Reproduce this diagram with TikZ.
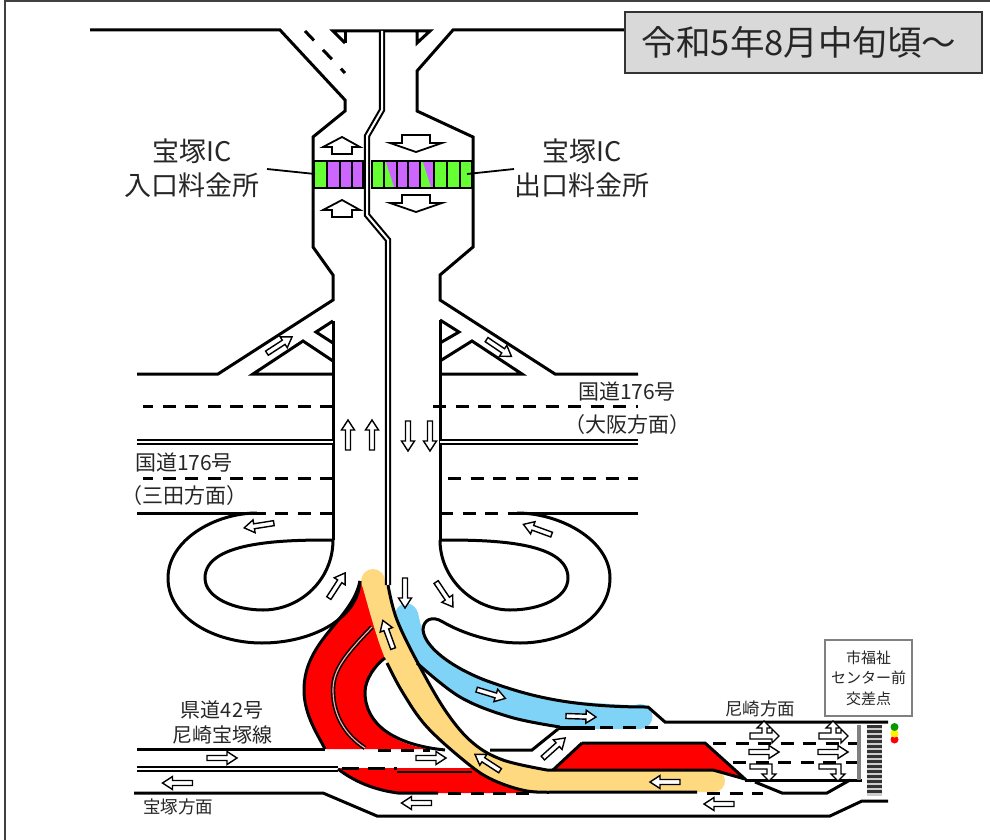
\documentclass[tikz,border=0pt]{standalone}
\usepackage{fontspec}
\newfontfamily\cjk{Noto Sans CJK JP}
\definecolor{tollgreen}{HTML}{66FF33}
\definecolor{tollpurple}{HTML}{CC66FF}
\definecolor{routeyellow}{HTML}{FFD97F}
\definecolor{routeblue}{HTML}{7FD3F7}
\tikzset{
  roadline/.style={draw=black,line width=3pt,line join=miter},
  laneline/.style={draw=black,line width=3pt,dash pattern=on 13pt off 9.5pt},
  tollcell/.style={draw=black,line width=2.6pt},
  slimarrow/.pic={
    \draw[line width=1.4pt,fill=white,line join=miter] (-15,-2.5) -- (5,-2.5) -- (5,-6.5) -- (15,0) -- (5,6.5) -- (5,2.5) -- (-15,2.5) -- cycle;
  },
  roadlabel/.style n args={2}{font=\cjk\fontsize{#1}{#2}\selectfont,align=center,text=black!85,inner sep=0pt},
}
\newcommand{\doubleroad}[1]{
  \draw[line width=6.2pt,black] #1;
  \draw[line width=2pt,white] #1;
}
\begin{document}
\begin{tikzpicture}[x=1pt,y=-1pt]
  \useasboundingbox (0,0) rectangle (990,840);

  \draw[line width=1.6pt,black!75] (5,840) -- (5,1) -- (990,1);

  % red lanes
  \begin{scope}[every path/.style={fill=red}]
    \path (360,581) .. controls (352,620) and (304,640) .. (304,690)
      .. controls (304,715) and (318,735) .. (325,749) -- (430,749)
      .. controls (395,745) and (365,725) .. (365,692)
      .. controls (365,680) and (375,665) .. (386,656) -- (372,600) -- cycle;
    \path (338,768) .. controls (355,782) and (375,790) .. (398,793) -- (540,793) -- (500,768) -- cycle;
    \path (582,743) -- (705,743) -- (745,779) -- (713,770) -- (553,770) -- cycle;
  \end{scope}

  % blue and yellow routes
  \fill[routeblue] plot[smooth,tension=.6] coordinates {(395,612) (402,632) (417,663) (460,697) (510,717) (560,726) (600,729) (640,729)}
    -- plot[smooth,tension=.6] coordinates {(648,706) (555,699) (493,682) (440,655) (423,630) (418,612)} -- cycle;
  \fill[routeblue] (406.5,615) circle (11.5pt);
  \fill[routeblue] (640,716.5) circle (12.5pt);
  \fill[routeyellow] plot[smooth,tension=.6] coordinates {(361,581) (375,630) (387,663) (403,693) (427,727) (467,763) (493,780) (527,791) (560,792)}
    -- (714,792) -- (714,770)
    -- plot[smooth,tension=.6] coordinates {(547,770) (503,760) (473,743) (447,713) (420,667) (397,620) (385,581)} -- cycle;
  \fill[routeyellow] (373,581) circle (12pt);
  \fill[routeyellow] (714,781) circle (11pt);

  % top of the interchange
  \draw[roadline] (90,30) -- (280,30) -- (345,100) -- (345,111) -- (313,137) -- (313,247) -- (333,275) -- (333,300) -- (218,374) -- (137,374);
  \draw[roadline] (625,30) -- (453,30) -- (417,71) -- (417,111) -- (473,137) -- (473,247) -- (440,275) -- (440,300) -- (555,374) -- (638,374);
  \draw[roadline] (345,43) -- (333,31) -- (430,31) -- (417,43) -- (417,31);
  \draw[roadline] (345,43) -- (345,31);
  \draw[roadline,dash pattern=on 13pt off 13pt] (305,31) -- (345,73);
  \doubleroad{(382,31) -- (382,110) -- (367,136) -- (367,215) -- (388,240) -- (388,585)}

  % toll booths
  \fill[tollgreen] (314,161) rectangle (363,188);
  \fill[tollgreen] (372,161) rectangle (472,188);
  \foreach \xa/\xb in {327/340,340/352,352/363,397/408,409/420}
    \fill[tollpurple] (\xa,161) rectangle (\xb,188);
  \fill[tollpurple] (386,162) -- (397,162) -- (397,187) -- (394,187) -- cycle;
  \fill[tollpurple] (423,162) -- (434,162) -- (434,187) -- (431,187) -- cycle;
  \draw[tollcell] (314,161) rectangle (363,188);
  \draw[tollcell] (372,161) rectangle (472,188);
  \foreach \x in {327,340,352,384,397,408,420,434,447,460}
    \draw[tollcell] (\x,161) -- (\x,188);
  \draw[line width=1.8pt] (267,169) -- (315,174);
  \draw[line width=1.8pt] (514,169) -- (467,174);

  \draw[line width=1.8pt,fill=white] (342,137) -- (360,147) -- (352,147) -- (352,154) -- (332,154) -- (332,147) -- (323,147) -- cycle;
  \draw[line width=1.8pt,fill=white] (342,200) -- (360,210) -- (352,210) -- (352,217) -- (332,217) -- (332,210) -- (323,210) -- cycle;
  \draw[line width=1.8pt,fill=white] (402,135) -- (430,135) -- (430,143) -- (442,143) -- (416,152) -- (390,143) -- (402,143) -- cycle;
  \draw[line width=1.8pt,fill=white] (402,195) -- (430,195) -- (430,203) -- (442,203) -- (416,212) -- (390,203) -- (402,203) -- cycle;

  % national road
  \draw[roadline] (333,321) -- (316,332) -- (333,343);
  \draw[roadline] (333,361) -- (303,341) -- (253,374) -- (333,374);
  \draw[roadline] (333,321) -- (333,540);
  \draw[roadline] (440,320) -- (459,332) -- (440,343);
  \draw[roadline] (440,361) -- (472,341) -- (522,374) -- (440,374);
  \draw[roadline] (440,320) -- (440,540);
  \draw[laneline] (333,406) -- (143,406);
  \draw[laneline] (333,478) -- (143,478);
  \draw[laneline] (333,513) -- (257,513);
  \draw[roadline] (257,513) -- (137,513);
  \draw[laneline] (433,406) -- (638,406);
  \draw[laneline] (448,478) -- (638,478);
  \draw[laneline] (440,513) -- (517,513);
  \draw[roadline] (517,513) -- (638,513);
  \doubleroad{(137,442) -- (333,442)}
  \doubleroad{(440,442) -- (638,442)}

  % loops
  \draw[roadline] (257,513) .. controls (215,513) and (168,540) .. (168,578)
    .. controls (168,618) and (215,643) .. (262,643)
    .. controls (310,643) and (358,620) .. (360,581);
  \draw[roadline] (333,540) .. controls (290,540) and (205,540) .. (205,578)
    .. controls (205,598) and (235,610) .. (263,610)
    .. controls (300,610) and (333,580) .. (333,540);
  \draw[roadline] (517,513) .. controls (560,513) and (610,540) .. (610,578)
    .. controls (610,618) and (565,643) .. (520,643)
    .. controls (490,643) and (460,632) .. (443,622)
    .. controls (432,615) and (423,620) .. (423,630)
    .. controls (425,650) and (460,672) .. (493,683)
    .. controls (530,696) and (570,707) .. (648,707) -- (665,722) -- (888,722);
  \draw[roadline] (440,540) .. controls (485,540) and (568,540) .. (568,578)
    .. controls (568,598) and (540,610) .. (510,610)
    .. controls (475,610) and (440,580) .. (440,540);

  % edges of the ramps
  \draw[roadline] plot[smooth,tension=.6] coordinates {(388,585) (397,620) (420,667) (447,713) (473,743) (503,760) (547,770)} -- (713,770);
  \draw[roadline] plot[smooth,tension=.6] coordinates {(387,663) (403,693) (427,727) (467,763) (493,780) (527,791) (560,792)} -- (697,792);
  \draw[roadline] plot[smooth,tension=.6] coordinates {(417,663) (460,697) (510,717) (560,727)};
  \draw[line width=3.6pt] (558,728) -- (595,728);
  \draw[laneline] (600,727) -- (662,727);
  \draw[roadline] (490,750) -- (532,750) -- (558,729);
  \draw[roadline] (582,743) -- (705,743) -- (745,779) -- (713,770);
  \draw[roadline] (553,770) -- (582,743);

  % red area outline
  \draw[roadline] (360,581) .. controls (352,620) and (304,640) .. (304,690)
    .. controls (304,715) and (318,735) .. (325,749);
  \draw[roadline] (385,658) .. controls (375,665) and (365,680) .. (365,692)
    .. controls (365,725) and (395,745) .. (445,750);
  \draw[line width=4.4pt] (372,627) .. controls (345,655) and (333,670) .. (333,690)
    .. controls (333,715) and (345,735) .. (365,748);
  \draw[line width=1.2pt,red!35] (372,627) .. controls (345,655) and (333,670) .. (333,690)
    .. controls (333,715) and (345,735) .. (365,748);

  % county road
  \fill[white] (325,751) rectangle (442,767);
  \draw[roadline] (137,749) -- (325,749);
  \draw[laneline] (378,750) -- (430,750);
  \doubleroad{(137,769) -- (338,769)}
  \draw[roadline,dash pattern=on 17pt off 9pt] (342,768) -- (397,768);
  \draw[line width=2pt] (397,772) -- (472,772);
  \draw[roadline] (134,793) -- (323,793) -- (377,816) -- (830,816) -- (862,801) -- (888,801);
  \draw[roadline] (338,769) .. controls (355,782) and (375,790) .. (398,793) -- (438,793);
  \draw[laneline] (448,793) -- (530,793);
  \draw[laneline] (707,793) -- (763,793);

  % Amagasaki side
  \draw[laneline] (713,743) -- (857,743);
  \draw[laneline] (733,762) -- (857,762);
  \draw[roadline] (745,780) -- (862,780);
  \draw[roadline] (755,782) -- (782,793) -- (827,793) -- (850,780);
  \draw[black!50,line width=3.6pt] (859,725) -- (859,780);
  \fill[black!20] (867,725) rectangle (882,796);
  \foreach \y in {726.5,731.5,...,796}
    \draw[black!80,line width=2.6pt] (867,\y) -- (882,\y);
  \fill[red] (894.5,739.5) circle (4pt);
  \fill[yellow] (894.5,733.5) circle (4pt);
  \fill[green!60!black] (894.5,727) circle (4pt);

  % arrows
  \foreach \x/\y/\a in {279.5/345/33,499/348/-34,348/435/90,372/435/90,408/436/-90,430/436/-90,
      259/525.5/189,537.5/529.5/160,337/585.5/57,405/593/-90,444.5/594.5/-56,388/634.5/110,
      487.5/762.5/147,665/782/180,491/694/-17,581/716.5/-2,554/748/42,416.5/803/180,
      177.5/783/180,222/758/0,431/758/0,719/804/180,764/752/0,833/752/0}
    \pic[rotate=\a] at (\x,\y) {slimarrow};
  \foreach \x in {0,69} {
    \begin{scope}[xshift=\x pt]
      \draw[line width=1.2pt,fill=white] (750,733) -- (762,733) -- (762,728) -- (757,728) -- (764,721) -- (771,728) -- (767,728) -- (767,733) -- (772,733) -- (772,729) -- (779,736) -- (772,743) -- (772,739) -- (750,739) -- cycle;
      \draw[line width=1.2pt,fill=white] (750,764) -- (772,764) -- (772,774) -- (776,774) -- (769,781) -- (762,774) -- (767,774) -- (767,769) -- (750,769) -- cycle;
    \end{scope}
  }

  % labels
  \node[draw=black!80,line width=1.4pt,fill=black!15,minimum width=357pt,minimum height=61pt,roadlabel={34.5}{42}] (period) at (803.5,42.5) {令和5年8月中旬頃～\hspace{9pt}};
  \node[roadlabel={27}{34}] (inlabel) at (192,168) {宝塚IC\\入口料金所};
  \node[roadlabel={27}{34}] (outlabel) at (582,168) {宝塚IC\\出口料金所};
  \node[roadlabel={21}{33}] (osaka) at (627,408) {国道176号\\（大阪方面）};
  \node[roadlabel={21}{33}] (sanda) at (184,479) {国道176号\\（三田方面）};
  \node[roadlabel={20}{25}] (county) at (222,722) {県道42号\\尼崎宝塚線};
  \node[roadlabel={17.5}{20}] (takarazuka) at (178,807) {宝塚方面};
  \node[roadlabel={17.5}{20}] (amagasaki) at (760,709) {尼崎方面};
  \node[draw=black!50,line width=1.6pt,fill=white,minimum width=87pt,minimum height=76pt,roadlabel={15}{20.5}] (center) at (868.5,678) {市福祉\\センター前\\交差点};
\end{tikzpicture}
\end{document}
